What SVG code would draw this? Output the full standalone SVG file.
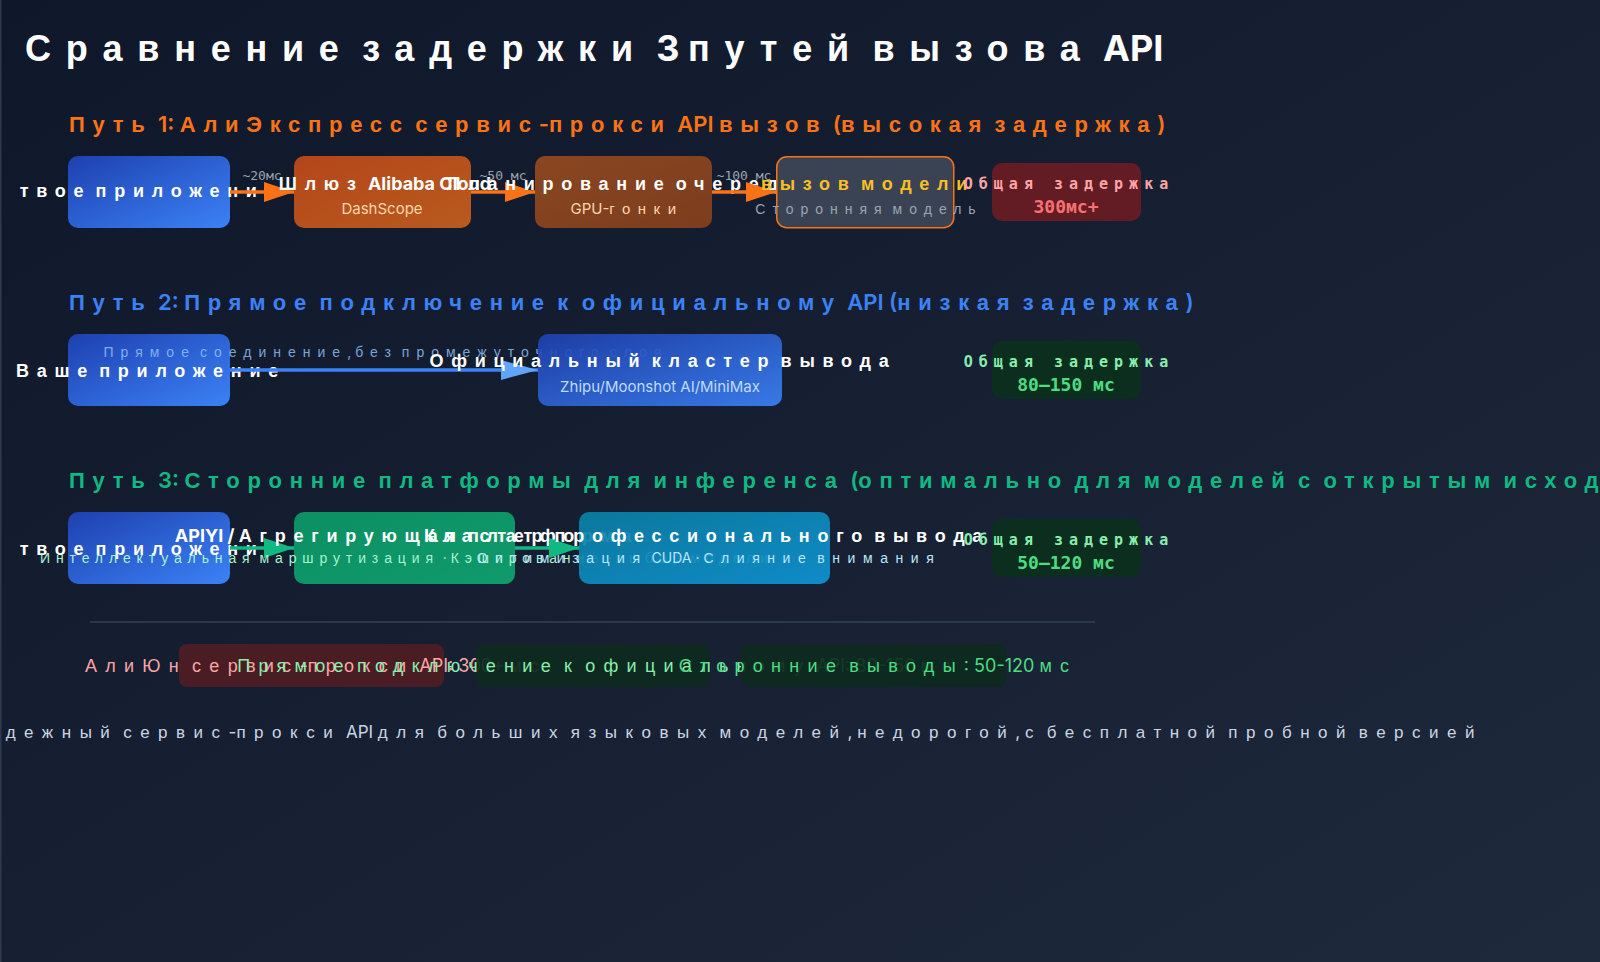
<svg xmlns="http://www.w3.org/2000/svg" width="1600" height="962" viewBox="0 0 1600 962">
<defs>
<linearGradient id="bg" x1="0" y1="0" x2="1" y2="1"><stop offset="0" stop-color="#0f172a"/><stop offset="1" stop-color="#1e293b"/></linearGradient>
<linearGradient id="gBlue" x1="0" y1="0" x2="1" y2="1"><stop offset="0" stop-color="#1e40af"/><stop offset="1" stop-color="#3b82f6"/></linearGradient>
<linearGradient id="gOrange" x1="0" y1="0" x2="1" y2="1"><stop offset="0" stop-color="#b4461a"/><stop offset="1" stop-color="#b85a1e"/></linearGradient>
<linearGradient id="gBrown" x1="0" y1="0" x2="1" y2="1"><stop offset="0" stop-color="#8a4620"/><stop offset="1" stop-color="#7c3d1e"/></linearGradient>
<linearGradient id="gGreen" x1="0" y1="0" x2="1" y2="1"><stop offset="0" stop-color="#0b8f63"/><stop offset="1" stop-color="#109a6c"/></linearGradient>
<linearGradient id="gCyan" x1="0" y1="0" x2="1" y2="1"><stop offset="0" stop-color="#0a7fa5"/><stop offset="1" stop-color="#0f93d2"/></linearGradient>
<marker id="mO" markerUnits="userSpaceOnUse" markerWidth="30" markerHeight="22" refX="30" refY="11" orient="auto"><path d="M0,1 L30,11 L0,21 Z" fill="#f97316"/></marker>
<marker id="mB" markerUnits="userSpaceOnUse" markerWidth="37" markerHeight="22" refX="37" refY="11" orient="auto"><path d="M0,1 L37,11 L0,21 Z" fill="#60a5fa"/></marker>
<marker id="mG" markerUnits="userSpaceOnUse" markerWidth="30" markerHeight="22" refX="30" refY="11" orient="auto"><path d="M0,1 L30,11 L0,21 Z" fill="#10b981"/></marker>
</defs>
<style>
text{font-family:Inter,"Noto Sans",sans-serif}
.c{font-family:"Liberation Sans",Arial,sans-serif;letter-spacing:0.43em}
.ti .c{letter-spacing:0.41em}
.h .c{letter-spacing:0.35em}
.sb .c,.ft .c{letter-spacing:0.5em}
.lg .c{letter-spacing:0.46em}
.sb.b3 .c{letter-spacing:0.42em}
.sb.c3 .c{letter-spacing:0.54em}
.h{font-size:22px;font-weight:600}
.lb{font-size:18px;font-weight:700;fill:#fff;text-anchor:middle}
.sb{font-size:14px;text-anchor:middle}
.al{font-family:"DejaVu Sans Mono",monospace;font-size:13px;fill:#9ca3af;text-anchor:middle}
.tl{font-family:"DejaVu Sans Mono",monospace;font-weight:700;font-size:15px;letter-spacing:6px;text-anchor:middle}
.tv{font-family:"DejaVu Sans Mono",monospace;font-weight:700;font-size:18px;text-anchor:middle}
.lg{font-size:18px;text-anchor:middle}
.ft{font-size:17px;fill:#cbd5e1;text-anchor:end}
</style>
<rect width="1600" height="962" fill="url(#bg)"/>
<line x1="0.75" y1="0" x2="0.75" y2="962" stroke="#2f3a4c" stroke-width="1.5"/>

<text x="25" y="61" class="ti" font-size="36" font-weight="700" fill="#fff"><tspan class="c">Сравнение</tspan> <tspan class="c">задержки</tspan> 3 <tspan class="c">путей</tspan> <tspan class="c">вызова</tspan> API</text>

<text x="69" y="132" class="h" fill="#f97316"><tspan class="c">Путь</tspan> 1: <tspan class="c">АлиЭкспресс</tspan> <tspan class="c">сервис</tspan>-<tspan class="c">прокси</tspan> API <tspan class="c">вызов</tspan> (<tspan class="c">высокая</tspan> <tspan class="c">задержка</tspan>)</text>

<g id="p1-app"><rect x="68" y="156" width="162" height="72" rx="10" fill="url(#gBlue)"/><text x="151" y="197" class="lb"><tspan class="c">твое</tspan> <tspan class="c">приложение</tspan></text></g>
<g id="connectors-1">
<line x1="230" y1="192" x2="294" y2="192" stroke="#f97316" stroke-width="3.5" marker-end="url(#mO)"/>
<text x="262" y="180" class="al">~20мс</text>
</g>
<g id="p1-gateway"><rect x="294" y="156" width="177" height="72" rx="10" fill="url(#gOrange)"/><text x="385" y="190" class="lb"><tspan class="c">Шлюз</tspan> Alibaba Cloud</text><text x="382" y="214" class="sb" fill="#fed7aa" style="font-size:15px">DashScope</text></g>
<g id="connectors-2">
<line x1="471" y1="192" x2="535" y2="192" stroke="#f97316" stroke-width="3.5" marker-end="url(#mO)"/>
<text x="503" y="180" class="al">~50 мс</text>
</g>
<g id="p1-queue"><rect x="535" y="156" width="177" height="72" rx="10" fill="url(#gBrown)"/><text x="626" y="190" class="lb"><tspan class="c">Планирование</tspan> <tspan class="c">очереди</tspan></text><text x="627" y="214" class="sb" fill="#fed7aa" style="font-size:15px">GPU-<tspan class="c">гонки</tspan></text></g>
<g id="connectors-3">
<line x1="712" y1="192" x2="776" y2="192" stroke="#f97316" stroke-width="3.5" marker-end="url(#mO)"/>
<text x="744" y="180" class="al">~100 мс</text>
</g>
<g id="p1-model"><rect x="776.75" y="156.75" width="177" height="71" rx="10" fill="#3a4353" stroke="#f97316" stroke-width="1.5"/><text x="868" y="190" class="lb" style="fill:#fbbf24"><tspan class="c">вызов</tspan> <tspan class="c">модели</tspan></text><text x="869" y="214" class="sb" fill="#9ca3af"><tspan class="c">Сторонняя</tspan> <tspan class="c">модель</tspan></text></g>
<g id="p1-total"><rect x="992" y="163" width="149" height="58" rx="10" fill="#641c24"/><text x="1069" y="189" class="tl" fill="#fca5a5">Общая задержка</text><text x="1066" y="213" class="tv" fill="#f87171">300мс+</text></g>

<text x="69" y="310" class="h" fill="#3b82f6"><tspan class="c">Путь</tspan> 2: <tspan class="c">Прямое</tspan> <tspan class="c">подключение</tspan> <tspan class="c">к</tspan> <tspan class="c">официальному</tspan> API (<tspan class="c">низкая</tspan> <tspan class="c">задержка</tspan>)</text>

<g id="p2-app"><rect x="68" y="334" width="162" height="72" rx="10" fill="url(#gBlue)"/><text x="151" y="377" class="lb"><tspan class="c">Ваше</tspan> <tspan class="c">приложение</tspan></text></g>
<g id="connectors-4">
<text x="386" y="357" class="sb" fill="#93c5fd" opacity="0.8"><tspan class="c">Прямое</tspan> <tspan class="c">соединение</tspan>, <tspan class="c">без</tspan> <tspan class="c">промежуточного</tspan> <tspan class="c">слоя</tspan></text>
<line x1="230" y1="370" x2="538" y2="370" stroke="#3b82f6" stroke-width="3.5" marker-end="url(#mB)"/>
</g>
<g id="p2-official"><rect x="538" y="334" width="244" height="72" rx="10" fill="url(#gBlue)" opacity="0.92"/><text x="663" y="367" class="lb"><tspan class="c">Официальный</tspan> <tspan class="c">кластер</tspan> <tspan class="c">вывода</tspan></text><text x="660" y="392" class="sb" fill="#bfdbfe" style="font-size:15px">Zhipu/Moonshot AI/MiniMax</text></g>
<g id="p2-total"><rect x="992" y="341" width="149" height="58" rx="10" fill="#0c2e1e"/><text x="1069" y="367" class="tl" fill="#86efac">Общая задержка</text><text x="1066" y="391" class="tv" fill="#4ade80">80–150 мс</text></g>

<text x="69" y="488" class="h" fill="#10b981"><tspan class="c">Путь</tspan> 3: <tspan class="c">Сторонние</tspan> <tspan class="c">платформы</tspan> <tspan class="c">для</tspan> <tspan class="c">инференса</tspan> (<tspan class="c">оптимально</tspan> <tspan class="c">для</tspan> <tspan class="c">моделей</tspan> <tspan class="c">с</tspan> <tspan class="c">открытым</tspan> <tspan class="c">исходным</tspan> <tspan class="c">кодом</tspan>)</text>

<g id="p3-app"><rect x="68" y="512" width="162" height="72" rx="10" fill="url(#gBlue)"/><text x="151" y="555" class="lb"><tspan class="c">твое</tspan> <tspan class="c">приложение</tspan></text></g>
<g id="connectors-5"><line x1="230" y1="548" x2="294" y2="548" stroke="#10b981" stroke-width="3.5" marker-end="url(#mG)"/></g>
<g id="p3-aggregator"><rect x="294" y="512" width="221" height="72" rx="10" fill="url(#gGreen)"/><text x="407" y="542" class="lb">APIYI / <tspan class="c">Агрегирующая</tspan> <tspan class="c">платформа</tspan></text><text x="407" y="563" class="sb b3" fill="#a7f3d0"><tspan class="c">Интеллектуальная</tspan> <tspan class="c">маршрутизация</tspan> · <tspan class="c">Кэширование</tspan> · <tspan class="c">выбор</tspan> <tspan class="c">модели</tspan></text></g>
<g id="connectors-6"><line x1="515" y1="548" x2="579" y2="548" stroke="#10b981" stroke-width="3.5" marker-end="url(#mG)"/></g>
<g id="p3-inference"><rect x="579" y="512" width="251" height="72" rx="10" fill="url(#gCyan)" opacity="0.93"/><text x="707" y="542" class="lb"><tspan class="c">Кластер</tspan> <tspan class="c">профессионального</tspan> <tspan class="c">вывода</tspan></text><text x="709" y="563" class="sb c3" fill="#bae6fd"><tspan class="c">Оптимизация</tspan> CUDA · <tspan class="c">Слияние</tspan> <tspan class="c">внимания</tspan></text></g>
<g id="p3-total"><rect x="992" y="519" width="149" height="58" rx="10" fill="#0c2e1e"/><text x="1069" y="545" class="tl" fill="#86efac">Общая задержка</text><text x="1066" y="569" class="tv" fill="#4ade80">50–120 мс</text></g>

<g id="legend">
<line x1="90" y1="622" x2="1095" y2="622" stroke="#334155" stroke-width="1.5"/>
<rect x="179" y="644" width="265" height="43" rx="8" fill="#4a1d25"/>
<text x="316" y="672" class="lg" fill="#fca5a5"><tspan class="c">АлиЮн</tspan> <tspan class="c">сервис</tspan>-<tspan class="c">прокси</tspan> API: 300+ <tspan class="c">мс</tspan></text>
<rect x="476" y="644" width="234" height="43" rx="8" fill="#0d2a1e" opacity="0.92"/>
<text x="598" y="672" class="lg" fill="#86efac"><tspan class="c">Прямое</tspan> <tspan class="c">подключение</tspan> <tspan class="c">к</tspan> <tspan class="c">официальному</tspan> API: 80-150 <tspan class="c">мс</tspan></text>
<rect x="741" y="644" width="265" height="43" rx="8" fill="#0d2a1e" opacity="0.92"/>
<text x="878" y="672" class="lg" fill="#4ade80"><tspan class="c">Сторонние</tspan> <tspan class="c">выводы</tspan>: 50-120 <tspan class="c">мс</tspan></text>
</g>

<text x="1483" y="738" class="ft"><tspan class="c">Надежный</tspan> <tspan class="c">сервис</tspan>-<tspan class="c">прокси</tspan> API <tspan class="c">для</tspan> <tspan class="c">больших</tspan> <tspan class="c">языковых</tspan> <tspan class="c">моделей</tspan>, <tspan class="c">недорогой</tspan>, <tspan class="c">с</tspan> <tspan class="c">бесплатной</tspan> <tspan class="c">пробной</tspan> <tspan class="c">версией</tspan></text>
</svg>
